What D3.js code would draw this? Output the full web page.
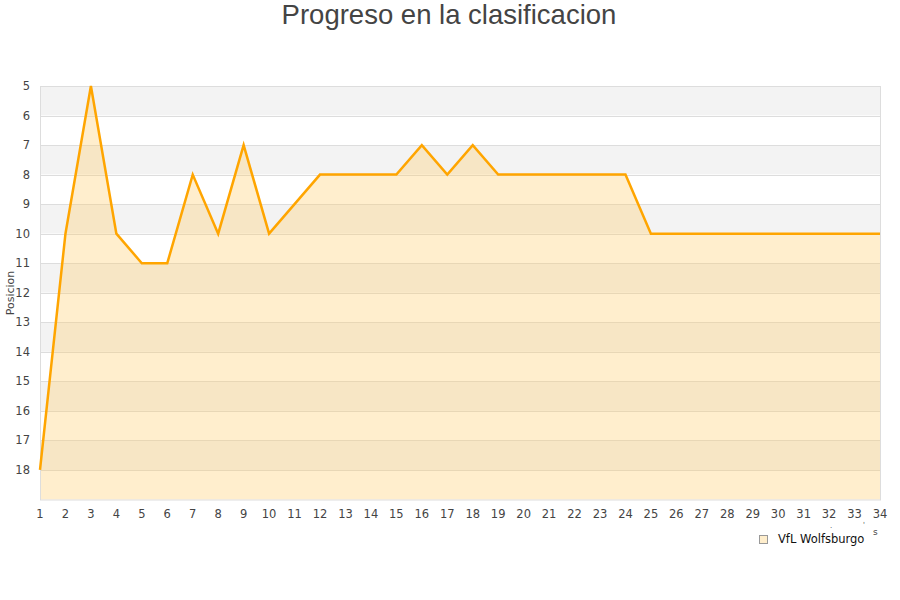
<!DOCTYPE html>
<html><head><meta charset="utf-8">
<script src="https://cdn.jsdelivr.net/npm/d3@7"></script>
<style>body{margin:0;background:#fff}svg{display:block}</style>
</head><body>
<svg id="c" width="900" height="600"></svg>
<script>
const jornadas = d3.range(1, 35);
const posiciones = [18,10,5,10,11,11,8,10,7,10,9,8,8,8,8,7,8,7,8,8,8,8,8,8,10,10,10,10,10,10,10,10,10,10];
const yTicks = d3.range(5, 19);
const titulo = "Progreso en la clasificacion";
const serie = "VfL Wolfsburgo";

const svg = d3.select("#c");
const L = 40, R = 880, T = 86, B = 499.5;
const x = d3.scaleLinear().domain([1, 34]).range([L, R]);
const y = d3.scaleLinear().domain([5, 19]).range([T, B]);

// bands
const bands = d3.range(5, 19);
svg.append("g").selectAll("rect").data(bands).join("rect")
  .attr("x", L).attr("width", R - L)
  .attr("y", d => y(d)).attr("height", d => y(d + 1) - y(d))
  .attr("fill", (d, i) => i % 2 === 0 ? "#f3f3f3" : "#ffffff");

// grid
svg.append("g").selectAll("line").data(d3.range(5, 19)).join("line")
  .attr("x1", L).attr("x2", R)
  .attr("y1", d => Math.round(y(d)) + 0.5).attr("y2", d => Math.round(y(d)) + 0.5)
  .attr("stroke", "#dddddd").attr("stroke-width", 1);

// area
const data = jornadas.map((j, i) => ({ j, p: posiciones[i] }));
svg.append("path").datum(data)
  .attr("d", d3.area().x(d => x(d.j)).y0(B).y1(d => y(d.p)))
  .attr("fill", "rgb(255,204,102)").attr("fill-opacity", 0.33);

// frame
svg.append("rect").attr("x", L + 0.5).attr("y", T + 0.5).attr("width", R - L).attr("height", B - T)
  .attr("fill", "none").attr("stroke", "#dddddd");

// line
svg.append("path").datum(data)
  .attr("d", d3.line().x(d => x(d.j)).y(d => y(d.p)))
  .attr("fill", "none").attr("stroke", "#ffa500").attr("stroke-width", 2.5)
  .attr("stroke-linejoin", "miter");

// y axis labels
svg.append("g").selectAll("text").data(yTicks).join("text")
  .attr("x", 30).attr("y", d => y(d) + 4)
  .attr("text-anchor", "end")
  .attr("font-family", "DejaVu Sans").attr("font-size", 11.5).attr("fill", "#444")
  .text(d => d);

// x axis labels
svg.append("g").selectAll("text").data(jornadas).join("text")
  .attr("x", d => x(d)).attr("y", 518)
  .attr("text-anchor", "middle")
  .attr("font-family", "DejaVu Sans").attr("font-size", 11.5).attr("fill", "#444")
  .text(d => d);

// y title
svg.append("text").attr("transform", "translate(14,293) rotate(-90)")
  .attr("text-anchor", "middle")
  .attr("font-family", "DejaVu Sans").attr("font-size", 11).attr("fill", "#444")
  .text("Posicion");

// title
svg.append("text").attr("x", 449).attr("y", 24)
  .attr("text-anchor", "middle")
  .attr("font-family", "Liberation Sans").attr("font-size", 27.5).attr("fill", "#444")
  .text(titulo);

// legend
svg.append("rect").attr("x", 759.5).attr("y", 535.5).attr("width", 8).attr("height", 8)
  .attr("fill", "#ffeecc").attr("stroke", "#999");
svg.append("text").attr("x", 778).attr("y", 543)
  .attr("font-family", "DejaVu Sans").attr("font-size", 11.5).attr("fill", "#111")
  .text(serie);

// tiny artifacts
svg.append("text").attr("x", 873).attr("y", 535)
  .attr("font-family", "DejaVu Sans").attr("font-size", 9).attr("fill", "#444").text("s");
svg.append("text").attr("x", 830).attr("y", 528)
  .attr("font-family", "DejaVu Sans").attr("font-size", 7).attr("fill", "#444").text(".");
svg.append("text").attr("x", 863).attr("y", 527)
  .attr("font-family", "DejaVu Sans").attr("font-size", 7).attr("fill", "#444").text("'");
</script>
</body></html>
